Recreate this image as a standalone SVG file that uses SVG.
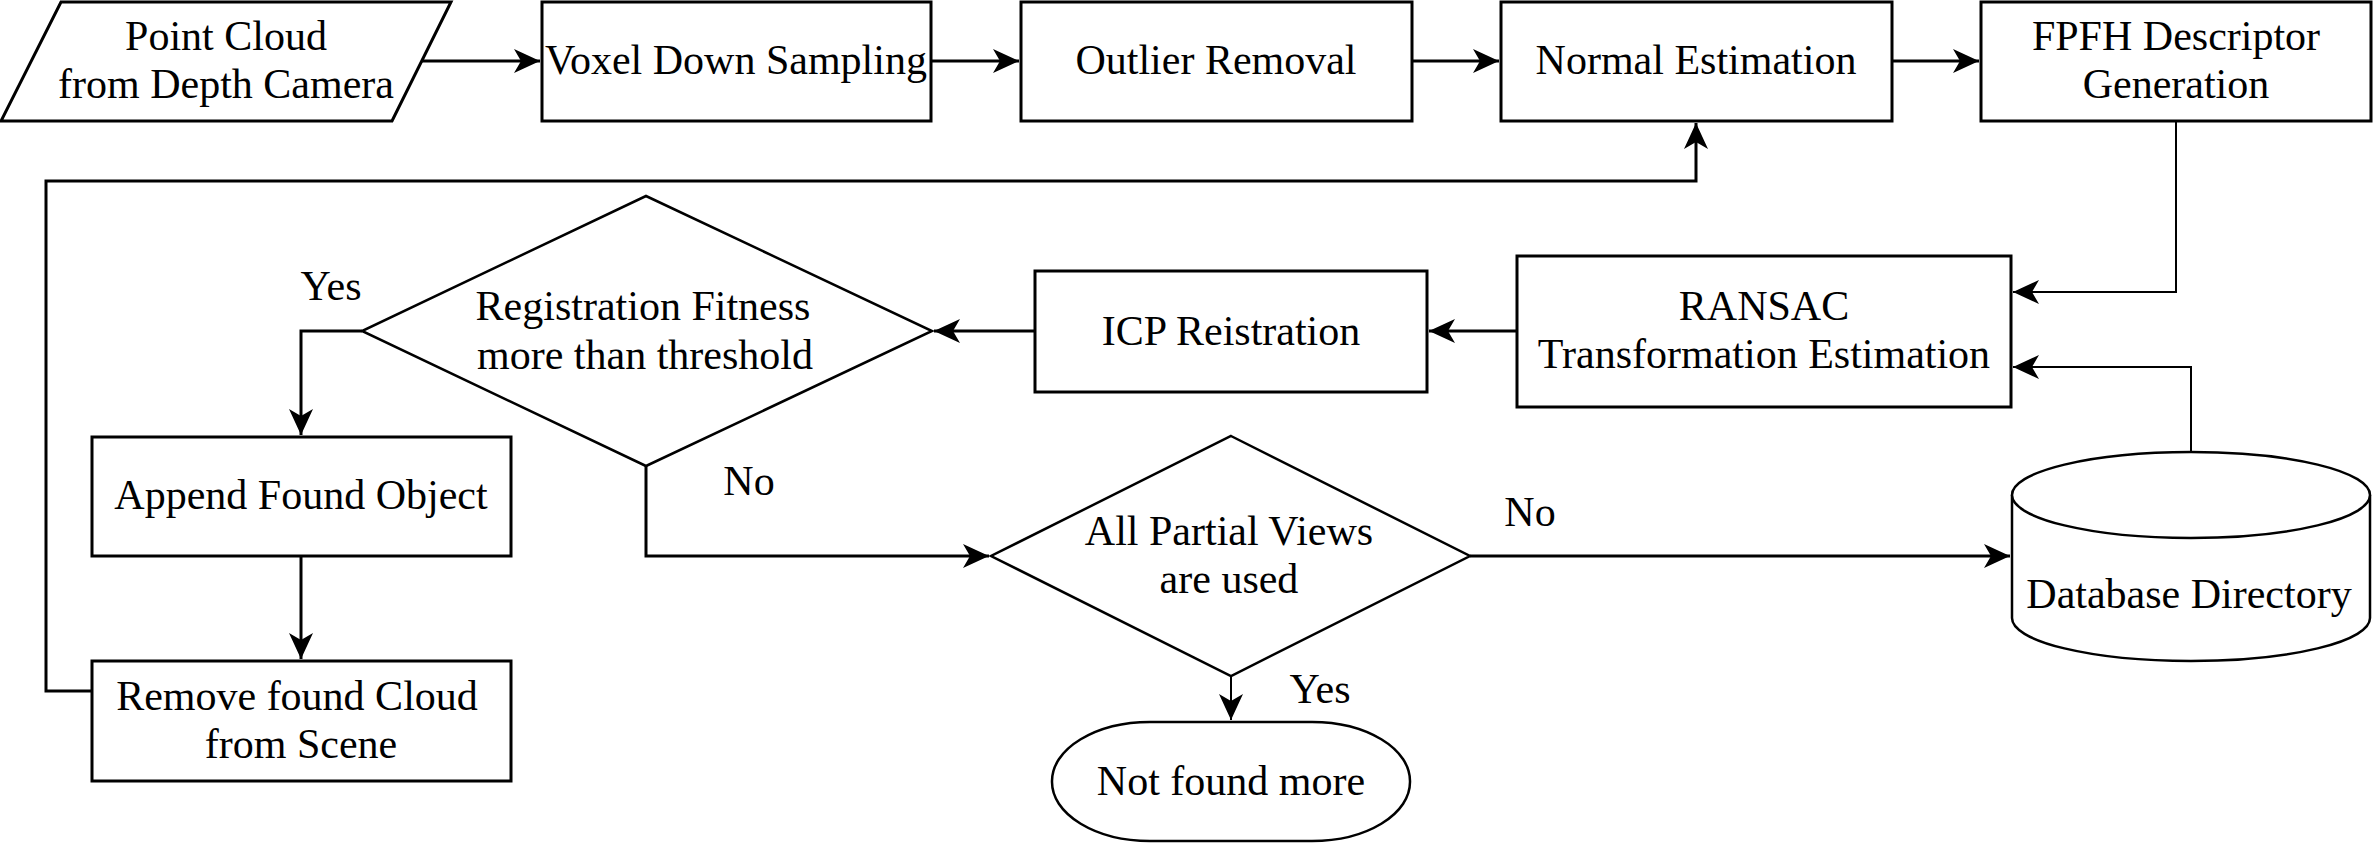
<svg xmlns="http://www.w3.org/2000/svg" width="2373" height="843" viewBox="0 0 2373 843">
<defs>
<style>
.n{fill:#fff;stroke:#000;stroke-width:3}
.d{fill:#fff;stroke:#000;stroke-width:2.5}
text{font-family:'Liberation Serif','Times New Roman',Times,serif;font-size:42px;fill:#000;text-anchor:middle}
.c{fill:none;stroke:#000;stroke-width:3}
.thin{stroke-width:2}
</style>
<marker id="arr" markerUnits="userSpaceOnUse" markerWidth="30" markerHeight="30" viewBox="-28 -14 30 28" refX="0" refY="0" orient="auto">
<path d="M0,0 L-26,-12 L-19,0 L-26,12 Z" fill="#000"/>
</marker>
</defs>
<rect width="2373" height="843" fill="#fff"/>
<g id="connectors">
<path class="c" d="M422,61 H540" marker-end="url(#arr)"/>
<path class="c" d="M931,61 H1019" marker-end="url(#arr)"/>
<path class="c" d="M1412,61 H1499" marker-end="url(#arr)"/>
<path class="c" d="M1892,61 H1979" marker-end="url(#arr)"/>
<path class="c thin" d="M2176,121 V292 H2013" marker-end="url(#arr)"/>
<path class="c thin" d="M2191,452 V367 H2013" marker-end="url(#arr)"/>
<path class="c" d="M1517,331 H1429" marker-end="url(#arr)"/>
<path class="c" d="M1035,331 H934" marker-end="url(#arr)"/>
<path class="c" d="M362,331 H301 V435" marker-end="url(#arr)"/>
<path class="c" d="M301,556 V659" marker-end="url(#arr)"/>
<path class="c" d="M92,691 H46 V181 H1696 V123" marker-end="url(#arr)"/>
<path class="c" d="M646,466 V556 H989" marker-end="url(#arr)"/>
<path class="c" d="M1470,556 H2010" marker-end="url(#arr)"/>
<path class="c thin" d="M1231,676 V720" marker-end="url(#arr)"/>
</g>
<g id="point-cloud">
<polygon class="n" points="61,2 451,2 392,121 1,121" stroke-width="2.5"/>
<text x="226" y="50">Point Cloud</text>
<text x="226" y="98">from Depth Camera</text>
</g>
<g id="voxel">
<rect class="n" x="542" y="2" width="389" height="119"/>
<text x="736" y="74">Voxel Down Sampling</text>
</g>
<g id="outlier">
<rect class="n" x="1021" y="2" width="391" height="119"/>
<text x="1216" y="74">Outlier Removal</text>
</g>
<g id="normal">
<rect class="n" x="1501" y="2" width="391" height="119"/>
<text x="1696" y="74">Normal Estimation</text>
</g>
<g id="fpfh">
<rect class="n" x="1981" y="2" width="390" height="119"/>
<text x="2176" y="50">FPFH Descriptor</text>
<text x="2176" y="98">Generation</text>
</g>
<g id="ransac">
<rect class="n" x="1517" y="256" width="494" height="151"/>
<text x="1764" y="320">RANSAC</text>
<text x="1764" y="368">Transformation Estimation</text>
</g>
<g id="icp">
<rect class="n" x="1035" y="271" width="392" height="121"/>
<text x="1231" y="345">ICP Reistration</text>
</g>
<g id="registration">
<polygon class="d" points="646,196 932,331 646,466 362,331" />
<text x="643" y="320">Registration Fitness</text>
<text x="645" y="369">more than threshold</text>
</g>
<g id="append">
<rect class="n" x="92" y="437" width="419" height="119"/>
<text x="301" y="509">Append Found Object</text>
</g>
<g id="remove">
<rect class="n" x="92" y="661" width="419" height="120"/>
<text x="297" y="710">Remove found Cloud</text>
<text x="301" y="758">from Scene</text>
</g>
<g id="all-partial">
<polygon class="d" points="1231,436 1470,556 1231,676 991,556"/>
<text x="1229" y="545">All Partial Views</text>
<text x="1229" y="593">are used</text>
</g>
<g id="not-found">
<rect class="d" x="1052" y="722" width="358" height="119" rx="98" ry="59"/>
<text x="1231" y="795">Not found more</text>
</g>
<g id="database">
<path class="d" d="M2012,495 A179,43 0 0 1 2370,495 V618 A179,43 0 0 1 2012,618 Z"/>
<path class="d" fill="none" d="M2012,495 A179,43 0 0 0 2370,495"/>
<text x="2189" y="608">Database Directory</text>
</g>
<g id="labels">
<text x="331" y="300">Yes</text>
<text x="749" y="495">No</text>
<text x="1530" y="526">No</text>
<text x="1320" y="703">Yes</text>
</g>
</svg>
